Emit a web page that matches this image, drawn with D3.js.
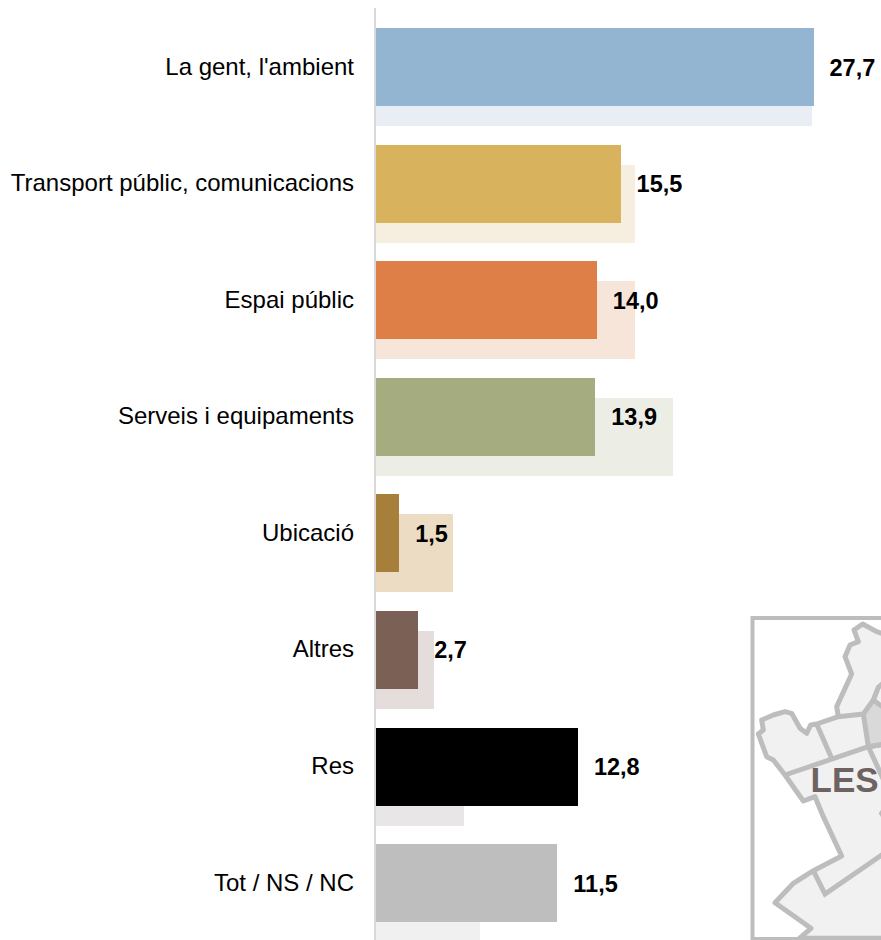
<!DOCTYPE html>
<html><head><meta charset="utf-8">
<script src="https://cdnjs.cloudflare.com/ajax/libs/d3/7.9.0/d3.min.js"></script>
<style>html,body{margin:0;padding:0;background:#fff;overflow:hidden}svg{display:block}</style>
</head><body><svg id="c" width="881" height="940"></svg>
<script>
const categories = ["La gent, l'ambient","Transport públic, comunicacions","Espai públic","Serveis i equipaments","Ubicació","Altres","Res","Tot / NS / NC"];
const mainValues = [27.7,15.5,14.0,13.9,1.5,2.7,12.8,11.5];
const compareValues = [27.6,16.4,16.4,18.8,4.9,3.7,5.6,6.6];
const mainColors = ["#94b5d2","#d8b25d","#de7f48","#a5ac7f","#a67f3a","#7a6055","#000000","#bebebe"];
const compareColors = ["#e9eef5","#f6efdf","#f8e5da","#ecede4","#ebdcc3","#e4dddb","#e8e6e7","#f0f0f0"];
// Inset map, in the coordinates of a 141 x 340 crop at 3x
const mapOutline = [[368,72],[342,90],[355,125],[330,135],[315,170],[335,222],[290,320],[295,350],[230,372],[212,375],[200,400],[180,385],[155,340],[135,335],[100,345],[65,360],[70,390],[55,402],[80,470],[100,480],[135,525],[190,603],[225,590],[250,650],[305,768],[220,812],[160,850],[105,908],[213,985],[178,1015],[440,1015],[440,105],[410,95]];
const mapDistrict = [[370,342],[400,300],[440,330],[440,432],[385,440]];
const mapLines = [
 [[230,372],[275,475]],
 [[135,525],[385,440],[440,432]],
 [[295,350],[370,342]],
 [[440,240],[415,262],[400,300]],
 [[385,440],[440,560]],
 [[220,812],[255,882],[440,755]],
 [[440,620],[425,640],[440,665]]
];
const mapLabel = "LES";

const svg = d3.select("#c");
const x = d3.scaleLinear().domain([0,27.7]).range([376,814]);
const y = d3.scaleBand().domain(categories).range([28,922.2]).paddingInner(0.33).paddingOuter(0).align(0);
const bh = y.bandwidth();
const rows = categories.map((c,i)=>({c,v:mainValues[i],b:compareValues[i],col:mainColors[i],bcol:compareColors[i]}));
const fmt = v => d3.format(".1f")(v).replace(".",",");

svg.selectAll("rect.back").data(rows).join("rect").attr("class","back")
  .attr("x",x(0)).attr("y",d=>Math.round(y(d.c))+20).attr("width",d=>Math.floor(x(d.b)-x(0))).attr("height",Math.round(bh)).attr("fill",d=>d.bcol);
svg.selectAll("rect.front").data(rows).join("rect").attr("class","front")
  .attr("x",x(0)).attr("y",d=>Math.round(y(d.c))).attr("width",d=>Math.floor(x(d.v)-x(0))).attr("height",Math.round(bh)).attr("fill",d=>d.col);

svg.append("line").attr("x1",375).attr("x2",375).attr("y1",8).attr("y2",940).attr("stroke","#d9d9d9").attr("stroke-width",2);

svg.selectAll("text.cat").data(rows).join("text").attr("class","cat")
  .attr("x",354).attr("y",d=>y(d.c)+bh/2+7.5).attr("text-anchor","end")
  .attr("font-family","'Liberation Sans',Arial,sans-serif").attr("font-size",24).attr("fill","#000").text(d=>d.c);
svg.selectAll("text.val").data(rows).join("text").attr("class","val")
  .attr("x",d=>x(d.v)+15.5).attr("y",d=>y(d.c)+bh/2+8.5)
  .attr("font-family","'Liberation Sans',Arial,sans-serif").attr("font-weight","bold").attr("font-size",23.5).attr("fill","#000").text(d=>fmt(d.v));

// inset
const mx = d3.scaleLinear().domain([0,141*3]).range([740,881]);
const my = d3.scaleLinear().domain([0,340*3]).range([600,940]);
const ln = d3.line().x(d=>mx(d[0])).y(d=>my(d[1]));
const g = svg.append("g");
g.append("path").attr("d",ln(mapOutline)+"Z").attr("fill","#f1f1f1").attr("stroke","#bdbdbd").attr("stroke-width",5).attr("stroke-linejoin","round");
g.append("path").attr("d",ln(mapDistrict)+"Z").attr("fill","#d9d9d9").attr("stroke","#bdbdbd").attr("stroke-width",5).attr("stroke-linejoin","round");
g.selectAll("path.l").data(mapLines).join("path").attr("class","l").attr("d",ln).attr("fill","none").attr("stroke","#bdbdbd").attr("stroke-width",5);
g.append("rect").attr("x",752.5).attr("y",618).attr("width",140).attr("height",321).attr("fill","none").attr("stroke","#bdbdbd").attr("stroke-width",4);
g.append("text").attr("x",810.5).attr("y",792).attr("font-family","'Liberation Sans',Arial,sans-serif").attr("font-weight","bold").attr("font-size",35).attr("fill","#6f6262").text(mapLabel);
</script></body></html>
